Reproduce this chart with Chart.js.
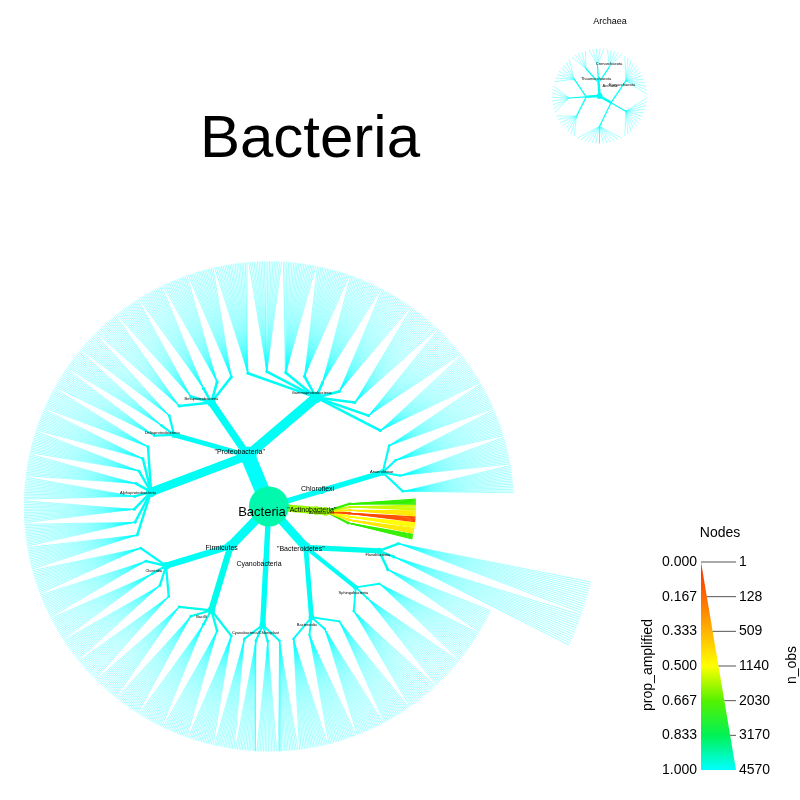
<!DOCTYPE html>
<html><head><meta charset="utf-8">
<script src="https://cdn.jsdelivr.net/npm/chart.js@4"></script>
<style>html,body{margin:0;padding:0;background:#fff}</style>
</head><body>
<canvas id="c" width="800" height="800"></canvas>
<script>
// ---- data ----
const taxonNames  = ['Bacteria','"Proteobacteria"','Alphaproteobacteria','Deltaproteobacteria','Betaproteobacteria','Gammaproteobacteria','Chloroflexi','Anaerolineae','"Actinobacteria"','Actinobacteria','"Bacteroidetes"','Flavobacteriia','Sphingobacteriia','Bacteroidia','Cyanobacteria','Cyanobacteria/Chloroplast','Firmicutes','Bacilli','Clostridia'];
const taxonParent = [-1,0,1,1,1,1,0,6,0,8,0,10,10,10,0,14,0,16,16];
const taxonObs    = [4570,3900,1300,400,900,1600,500,500,900,900,1200,500,300,400,500,500,1400,700,700];
const taxonProp   = [0.92,0.995,0.99,0.99,0.99,0.99,0.99,0.99,0.6,0.6,0.99,0.98,0.99,0.99,0.99,0.99,0.99,0.98,0.99];
const taxonTips   = [0,0,110,40,80,182,0,68,0,40,0,45,60,70,0,50,0,80,75];
const taxonOrders = [0,0,8,3,5,9,0,4,0,7,0,3,3,4,0,4,0,5,5];
const taxonReach  = [1,1,1,1,1,1,1,1,1,0.6,1,1,1,1,1,1,1,1,1];
const flavoReach  = 1.35;
const actinoOrderProps = [0.7,0.55,0.45,0.1,0.5,0.45,0.7];
const archaeaNames = ['Archaea','Euryarchaeota','Thaumarchaeota','Crenarchaeota'];
const archaeaTips  = [0,40,25,15];
const legendProps  = ['0.000','0.167','0.333','0.500','0.667','0.833','1.000'];
const legendObs    = ['1','128','509','1140','2030','3170','4570'];

// ---- helpers ----
function propColor(p){
  const stops=[[0,[255,30,0]],[0.5,[255,255,0]],[0.75,[0,235,0]],[1,[0,255,255]]];
  for(let i=1;i<stops.length;i++){ if(p<=stops[i][0]){const a=stops[i-1],b=stops[i];const t=(p-a[0])/(b[0]-a[0]);
    const c=a[1].map((v,k)=>Math.round(v+(b[1][k]-v)*t));return `rgb(${c[0]},${c[1]},${c[2]})`;}}
  return 'rgb(0,255,255)';
}
const datasets=[]; const labels=[]; const dots=[];
function edge(a,b,w,col){datasets.push({data:[a,b],showLine:true,borderColor:col,borderWidth:w,pointRadius:0,order:2});}
function pol(cx,cy,r,deg){const t=deg*Math.PI/180;return {x:cx+r*Math.cos(t),y:cy+r*Math.sin(t)};}

// ---- bacteria layout ----
const CX=262,CY=512,R=258;
const n=taxonNames.length, weight=new Array(n).fill(0), depth=new Array(n).fill(0);
for(let i=n-1;i>=0;i--){weight[i]+=taxonTips[i]; if(taxonParent[i]>=0) weight[taxonParent[i]]+=weight[i];}
for(let i=1;i<n;i++) depth[i]=depth[taxonParent[i]]+1;
const a0=new Array(n), a1=new Array(n), pos=new Array(n);
a0[0]=165; a1[0]=525; pos[0]={x:CX,y:CY};
const cursor={};
for(let i=1;i<n;i++){const p=taxonParent[i]; if(cursor[p]===undefined) cursor[p]=a0[p];
  a0[i]=cursor[p]; a1[i]=a0[i]+(a1[p]-a0[p])*weight[i]/weight[p]; cursor[p]=a1[i];
  const reach=taxonReach[i];
  const rr=depth[i]===1?(reach<1?50:58):(reach<1?60:125); pos[i]=pol(CX,CY,rr,(a0[i]+a1[i])/2);}
for(let i=1;i<n;i++) if(depth[i]===1){const kids=taxonParent.map((p,j)=>p===i?j:-1).filter(j=>j>=0); if(kids.some(j=>taxonReach[j]<1)) pos[i]=pol(CX,CY,50,(a0[i]+a1[i])/2);}
const wOf=o=>Math.max(0.6,Math.sqrt(o)*0.24);
for(let i=1;i<n;i++){
  const p=taxonParent[i];
  edge(pos[p],pos[i],wOf(taxonObs[i]),propColor(taxonProp[i]));
  dots.push({x:pos[i].x,y:pos[i].y,r:wOf(taxonObs[i])*0.6,c:propColor(taxonProp[i])});
  labels.push({t:taxonNames[i],x:pos[i].x,y:pos[i].y-(depth[i]===1?6:4),s:depth[i]===1?7:4});
  if(taxonTips[i]>0){
    const k=taxonOrders[i], tips=taxonTips[i], span=a1[i]-a0[i], reach=taxonReach[i];
    for(let o=0;o<k;o++){
      const oa0=a0[i]+span*o/k, oa1=a0[i]+span*(o+1)/k;
      const isActino=taxonNames[i]==='Actinobacteria';
      const prop=isActino?actinoOrderProps[o%actinoOrderProps.length]:taxonProp[i];
      const oReach=(taxonNames[i]==='Flavobacteriia'&&o<2)?flavoReach:reach;
      const op=pol(CX,CY,Math.min(195,R*reach*0.55),(oa0+oa1)/2);
      const oObs=taxonObs[i]/k;
      edge(pos[i],op,wOf(oObs)*0.8,propColor(prop));
      dots.push({x:op.x,y:op.y,r:wOf(oObs)*0.5,c:propColor(prop)});
      const tk=Math.round(tips/k);
      for(let j=0;j<tk;j++){
        const ta=oa0+(oa1-oa0)*(j+0.5)/tk;
        const tp=pol(CX,CY,R*oReach,ta);
        edge(op,tp,isActino?1.2:0.35,propColor(isActino?prop:1));
      }
    }
  }
}
// ---- archaea ----
const AX=610,AY=80,AR=50; let ac=0; const atot=archaeaTips.reduce((s,v)=>s+v,0);
for(let i=1;i<archaeaNames.length;i++){
  const s0=ac*360/atot-60, s1=(ac+archaeaTips[i])*360/atot-60; ac+=archaeaTips[i];
  const np=pol(AX,AY,14,(s0+s1)/2);
  edge({x:AX,y:AY},np,2.5,propColor(0.99));
  labels.push({t:archaeaNames[i],x:np.x,y:np.y-2,s:4});
  const k=3;
  for(let o=0;o<k;o++){const oa=s0+(s1-s0)*(o+0.5)/k; const op=pol(AX,AY,32,oa);
    edge(np,op,1.2,propColor(0.99));
    const tk=Math.round(archaeaTips[i]/k);
    for(let j=0;j<tk;j++){edge(op,pol(AX,AY,AR,s0+(s1-s0)*(o+(j+0.5)/tk)/k),0.35,propColor(1));}
  }
}
dots.push({x:AX,y:AY,r:3,c:propColor(0.99)});
labels.push({t:'Archaea',x:AX,y:AY+6,s:4});
dots.push({x:CX,y:CY,r:20,c:propColor(0.92)});

datasets.push({data:dots.map(d=>({x:d.x,y:d.y})),pointRadius:dots.map(d=>d.r),pointBackgroundColor:dots.map(d=>d.c),pointBorderWidth:0,showLine:false,order:1});

const textPlugin={id:'txt',afterDatasetsDraw(ch){
  const g=ch.ctx; g.save(); g.textAlign='center'; g.textBaseline='middle'; g.fillStyle='#000';
  g.font='60px "Liberation Sans", Arial'; g.fillText('Bacteria',310,140);
  g.font='9px "Liberation Sans", Arial'; g.fillText('Archaea',610,22);
  g.font='13px "Liberation Sans", Arial'; g.fillText('Bacteria',CX,CY);
  labels.forEach(l=>{if(!l.t)return; g.font=l.s+'px "Liberation Sans", Arial'; g.fillText(l.t,l.x,l.y);});
  g.font='14px "Liberation Sans", Arial'; g.fillText('Nodes',720,533);
  const top=562,bot=770,xl=701,xr=736;
  const grad=g.createLinearGradient(0,top,0,bot);
  [[0,0.02],[0.167,0.167],[0.333,0.333],[0.5,0.5],[0.667,0.667],[0.833,0.833],[1,1]].forEach(s=>grad.addColorStop(s[0],propColor(s[1])));
  g.fillStyle=grad; g.beginPath(); g.moveTo(xl,top); g.lineTo(xr,bot); g.lineTo(xl,bot); g.closePath(); g.fill();
  g.fillStyle='#000'; g.strokeStyle='#555'; g.lineWidth=1;
  legendProps.forEach((t,i)=>{const y=top+(bot-top)*i/6; const xs=xl+(xr-xl)*i/6;
    g.beginPath(); g.moveTo(xs,y); g.lineTo(736,y); g.stroke();
    g.textAlign='right'; g.fillText(t,697,y); g.textAlign='left'; g.fillText(legendObs[i],739,y);});
  g.textAlign='center';
  g.save(); g.translate(648,665); g.rotate(-Math.PI/2); g.fillText('prop_amplified',0,0); g.restore();
  g.save(); g.translate(792,665); g.rotate(-Math.PI/2); g.fillText('n_obs',0,0); g.restore();
  g.restore();
}};

new Chart(document.getElementById('c'),{type:'scatter',data:{datasets},
  options:{responsive:false,animation:false,events:[],layout:{padding:0},
    plugins:{legend:{display:false},tooltip:{enabled:false}},
    scales:{x:{type:'linear',min:0,max:800,display:false},y:{type:'linear',min:0,max:800,reverse:true,display:false}}},
  plugins:[textPlugin]});
</script>
</body></html>
